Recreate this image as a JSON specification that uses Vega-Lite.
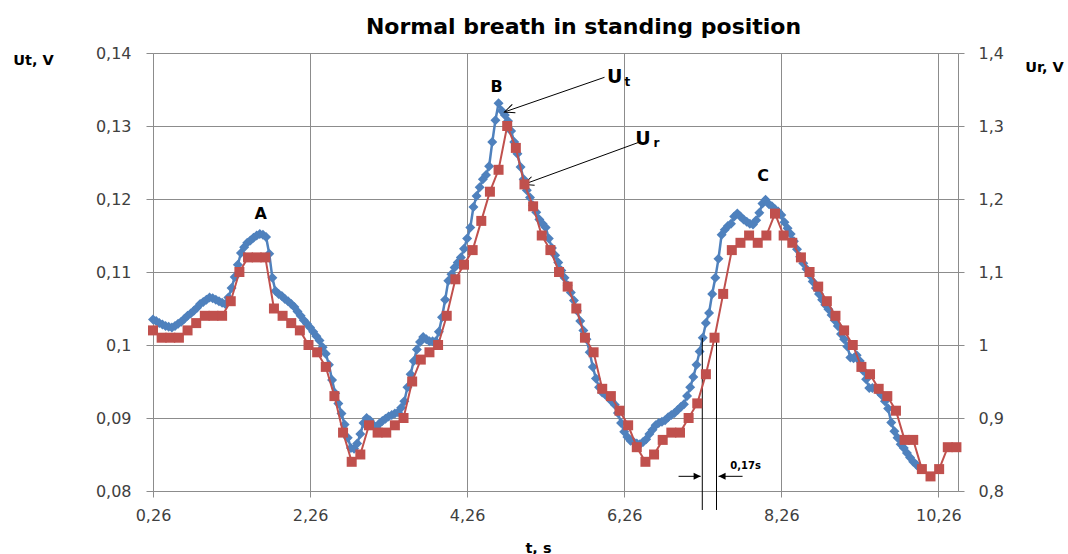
{
  "$schema": "https://vega.github.io/schema/vega-lite/v6.json",
  "width": 805,
  "height": 438,
  "autosize": {"type": "none"},
  "padding": {"left": 153, "top": 53, "right": 110, "bottom": 63},
  "background": "white",
  "title": {"text": "Normal breath in standing position", "font": "DejaVu Sans", "fontSize": 22, "fontWeight": "bold", "color": "#000000", "anchor": "middle", "dx": 28, "dy": 32, "offset": 16, "baseline": "bottom"},
  "config": {
    "view": {"stroke": null},
    "axis": {"labelFont": "DejaVu Sans", "labelFontSize": 16, "labelColor": "#404040", "titleFont": "DejaVu Sans", "titleFontSize": 14.5, "titleFontWeight": "bold", "titleColor": "#000000", "gridColor": "#8c8c8c", "domainColor": "#8c8c8c", "tickColor": "#8c8c8c", "gridWidth": 1, "labelFlush": false, "labelOverlap": false}
  },
  "datasets": {
    "ut": [
      {"t":0.26,"v":0.1035},{"t":0.30,"v":0.1033},{"t":0.34,"v":0.1030},{"t":0.38,"v":0.1028},{"t":0.42,"v":0.1026},{"t":0.46,"v":0.1025},{"t":0.50,"v":0.1024},{"t":0.54,"v":0.1026},{"t":0.58,"v":0.1029},{"t":0.62,"v":0.1032},
      {"t":0.66,"v":0.1036},{"t":0.70,"v":0.1040},{"t":0.74,"v":0.1043},{"t":0.78,"v":0.1047},{"t":0.82,"v":0.1051},{"t":0.86,"v":0.1056},{"t":0.90,"v":0.1059},{"t":0.94,"v":0.1062},{"t":0.98,"v":0.1065},{"t":1.02,"v":0.1064},
      {"t":1.06,"v":0.1062},{"t":1.10,"v":0.1060},{"t":1.14,"v":0.1058},{"t":1.18,"v":0.1056},{"t":1.22,"v":0.1065},{"t":1.26,"v":0.1078},{"t":1.30,"v":0.1093},{"t":1.34,"v":0.1110},{"t":1.38,"v":0.1126},{"t":1.42,"v":0.1134},
      {"t":1.46,"v":0.1140},{"t":1.50,"v":0.1143},{"t":1.54,"v":0.1147},{"t":1.58,"v":0.1150},{"t":1.62,"v":0.1152},{"t":1.66,"v":0.1151},{"t":1.70,"v":0.1148},{"t":1.74,"v":0.1125},{"t":1.78,"v":0.1092},{"t":1.82,"v":0.1074},
      {"t":1.86,"v":0.1070},{"t":1.90,"v":0.1067},{"t":1.94,"v":0.1063},{"t":1.98,"v":0.1060},{"t":2.02,"v":0.1056},{"t":2.06,"v":0.1052},{"t":2.10,"v":0.1046},{"t":2.14,"v":0.1040},{"t":2.18,"v":0.1034},{"t":2.22,"v":0.1029},
      {"t":2.26,"v":0.1024},{"t":2.30,"v":0.1018},{"t":2.34,"v":0.1012},{"t":2.38,"v":0.1006},{"t":2.42,"v":0.0997},{"t":2.46,"v":0.0988},{"t":2.50,"v":0.0973},{"t":2.54,"v":0.0952},{"t":2.58,"v":0.0934},{"t":2.62,"v":0.0920},
      {"t":2.66,"v":0.0906},{"t":2.70,"v":0.0891},{"t":2.74,"v":0.0873},{"t":2.78,"v":0.0859},{"t":2.82,"v":0.0858},{"t":2.86,"v":0.0865},{"t":2.90,"v":0.0878},{"t":2.94,"v":0.0893},{"t":2.98,"v":0.0900},{"t":3.02,"v":0.0897},
      {"t":3.06,"v":0.0891},{"t":3.10,"v":0.0887},{"t":3.14,"v":0.0892},{"t":3.18,"v":0.0896},{"t":3.22,"v":0.0899},{"t":3.26,"v":0.0902},{"t":3.30,"v":0.0904},{"t":3.34,"v":0.0906},{"t":3.38,"v":0.0908},{"t":3.42,"v":0.0914},
      {"t":3.46,"v":0.0923},{"t":3.50,"v":0.0942},{"t":3.54,"v":0.0960},{"t":3.58,"v":0.0978},{"t":3.62,"v":0.0994},{"t":3.66,"v":0.1004},{"t":3.70,"v":0.1011},{"t":3.74,"v":0.1008},{"t":3.78,"v":0.1005},{"t":3.82,"v":0.1005},
      {"t":3.86,"v":0.1005},{"t":3.90,"v":0.1018},{"t":3.94,"v":0.1038},{"t":3.98,"v":0.1062},{"t":4.02,"v":0.1088},{"t":4.06,"v":0.1097},{"t":4.10,"v":0.1106},{"t":4.14,"v":0.1113},{"t":4.18,"v":0.1120},{"t":4.22,"v":0.1132},
      {"t":4.26,"v":0.1146},{"t":4.30,"v":0.1161},{"t":4.34,"v":0.1189},{"t":4.38,"v":0.1204},{"t":4.42,"v":0.1216},{"t":4.46,"v":0.1227},{"t":4.50,"v":0.1233},{"t":4.54,"v":0.1245},{"t":4.58,"v":0.1278},{"t":4.62,"v":0.1308},
      {"t":4.66,"v":0.1331},{"t":4.70,"v":0.1321},{"t":4.74,"v":0.1315},{"t":4.78,"v":0.1307},{"t":4.82,"v":0.1293},{"t":4.86,"v":0.1278},{"t":4.90,"v":0.1262},{"t":4.94,"v":0.1244},{"t":4.98,"v":0.1227},{"t":5.02,"v":0.1212},
      {"t":5.06,"v":0.1202},{"t":5.10,"v":0.1191},{"t":5.14,"v":0.1182},{"t":5.18,"v":0.1172},{"t":5.22,"v":0.1166},{"t":5.26,"v":0.1161},{"t":5.30,"v":0.1146},{"t":5.34,"v":0.1133},{"t":5.38,"v":0.1123},{"t":5.42,"v":0.1113},
      {"t":5.46,"v":0.1102},{"t":5.50,"v":0.1092},{"t":5.54,"v":0.1082},{"t":5.58,"v":0.1072},{"t":5.62,"v":0.1061},{"t":5.66,"v":0.1047},{"t":5.70,"v":0.1033},{"t":5.74,"v":0.1020},{"t":5.78,"v":0.1008},{"t":5.82,"v":0.0990},
      {"t":5.86,"v":0.0970},{"t":5.90,"v":0.0954},{"t":5.94,"v":0.0942},{"t":5.98,"v":0.0935},{"t":6.02,"v":0.0932},{"t":6.06,"v":0.0928},{"t":6.10,"v":0.0923},{"t":6.14,"v":0.0918},{"t":6.18,"v":0.0907},{"t":6.22,"v":0.0893},
      {"t":6.26,"v":0.0881},{"t":6.30,"v":0.0874},{"t":6.34,"v":0.0869},{"t":6.38,"v":0.0867},{"t":6.42,"v":0.0865},{"t":6.46,"v":0.0864},{"t":6.50,"v":0.0867},{"t":6.54,"v":0.0871},{"t":6.58,"v":0.0878},{"t":6.62,"v":0.0884},
      {"t":6.66,"v":0.0890},{"t":6.70,"v":0.0893},{"t":6.74,"v":0.0895},{"t":6.78,"v":0.0897},{"t":6.82,"v":0.0901},{"t":6.86,"v":0.0904},{"t":6.90,"v":0.0907},{"t":6.94,"v":0.0911},{"t":6.98,"v":0.0915},{"t":7.02,"v":0.0919},
      {"t":7.06,"v":0.0930},{"t":7.10,"v":0.0942},{"t":7.14,"v":0.0956},{"t":7.18,"v":0.0973},{"t":7.22,"v":0.0991},{"t":7.26,"v":0.1010},{"t":7.30,"v":0.1030},{"t":7.34,"v":0.1044},{"t":7.38,"v":0.1070},{"t":7.42,"v":0.1092},
      {"t":7.46,"v":0.1118},{"t":7.50,"v":0.1151},{"t":7.54,"v":0.1158},{"t":7.58,"v":0.1163},{"t":7.62,"v":0.1166},{"t":7.66,"v":0.1176},{"t":7.70,"v":0.1180},{"t":7.74,"v":0.1176},{"t":7.78,"v":0.1172},{"t":7.82,"v":0.1169},
      {"t":7.86,"v":0.1166},{"t":7.90,"v":0.1165},{"t":7.94,"v":0.1171},{"t":7.98,"v":0.1181},{"t":8.02,"v":0.1194},{"t":8.06,"v":0.1199},{"t":8.10,"v":0.1193},{"t":8.14,"v":0.1190},{"t":8.18,"v":0.1186},{"t":8.22,"v":0.1183},
      {"t":8.26,"v":0.1178},{"t":8.30,"v":0.1168},{"t":8.34,"v":0.1160},{"t":8.38,"v":0.1152},{"t":8.42,"v":0.1142},{"t":8.46,"v":0.1131},{"t":8.50,"v":0.1121},{"t":8.54,"v":0.1112},{"t":8.58,"v":0.1104},{"t":8.62,"v":0.1096},
      {"t":8.66,"v":0.1087},{"t":8.70,"v":0.1078},{"t":8.74,"v":0.1070},{"t":8.78,"v":0.1062},{"t":8.82,"v":0.1055},{"t":8.86,"v":0.1049},{"t":8.90,"v":0.1041},{"t":8.94,"v":0.1034},{"t":8.98,"v":0.1026},{"t":9.02,"v":0.1015},
      {"t":9.06,"v":0.1008},{"t":9.10,"v":0.0998},{"t":9.14,"v":0.0983},{"t":9.18,"v":0.0982},{"t":9.22,"v":0.0986},{"t":9.26,"v":0.0978},{"t":9.30,"v":0.0965},{"t":9.34,"v":0.0953},{"t":9.38,"v":0.0941},{"t":9.42,"v":0.0941},
      {"t":9.46,"v":0.0941},{"t":9.50,"v":0.0936},{"t":9.54,"v":0.0931},{"t":9.58,"v":0.0923},{"t":9.62,"v":0.0913},{"t":9.66,"v":0.0894},{"t":9.70,"v":0.0882},{"t":9.74,"v":0.0873},{"t":9.78,"v":0.0864},{"t":9.82,"v":0.0859},
      {"t":9.86,"v":0.0852},{"t":9.90,"v":0.0846},{"t":9.94,"v":0.0840},{"t":9.98,"v":0.0836},{"t":10.02,"v":0.0832}
    ],
    "ur": [
      {"t":0.26,"ur":1.02},{"t":0.37,"ur":1.01},{"t":0.48,"ur":1.01},{"t":0.59,"ur":1.01},{"t":0.70,"ur":1.02},{"t":0.81,"ur":1.03},{"t":0.92,"ur":1.04},{"t":1.03,"ur":1.04},{"t":1.14,"ur":1.04},{"t":1.25,"ur":1.06},
      {"t":1.36,"ur":1.10},{"t":1.47,"ur":1.12},{"t":1.58,"ur":1.12},{"t":1.69,"ur":1.12},{"t":1.80,"ur":1.05},{"t":1.91,"ur":1.04},{"t":2.02,"ur":1.03},{"t":2.13,"ur":1.02},{"t":2.24,"ur":1.00},{"t":2.35,"ur":0.99},
      {"t":2.46,"ur":0.97},{"t":2.57,"ur":0.93},{"t":2.68,"ur":0.88},{"t":2.79,"ur":0.84},{"t":2.90,"ur":0.85},{"t":3.01,"ur":0.89},{"t":3.12,"ur":0.88},{"t":3.23,"ur":0.88},{"t":3.34,"ur":0.89},{"t":3.45,"ur":0.90},
      {"t":3.56,"ur":0.95},{"t":3.67,"ur":0.98},{"t":3.78,"ur":0.99},{"t":3.89,"ur":1.00},{"t":4.00,"ur":1.04},{"t":4.11,"ur":1.09},{"t":4.22,"ur":1.11},{"t":4.33,"ur":1.13},{"t":4.44,"ur":1.17},{"t":4.55,"ur":1.21},
      {"t":4.66,"ur":1.24},{"t":4.77,"ur":1.30},{"t":4.88,"ur":1.27},{"t":4.99,"ur":1.22},{"t":5.10,"ur":1.19},{"t":5.21,"ur":1.15},{"t":5.32,"ur":1.13},{"t":5.43,"ur":1.10},{"t":5.54,"ur":1.08},{"t":5.65,"ur":1.05},
      {"t":5.76,"ur":1.01},{"t":5.87,"ur":0.99},{"t":5.98,"ur":0.94},{"t":6.09,"ur":0.93},{"t":6.20,"ur":0.91},{"t":6.31,"ur":0.89},{"t":6.42,"ur":0.86},{"t":6.53,"ur":0.84},{"t":6.64,"ur":0.85},{"t":6.75,"ur":0.87},
      {"t":6.86,"ur":0.88},{"t":6.97,"ur":0.88},{"t":7.08,"ur":0.90},{"t":7.19,"ur":0.92},{"t":7.30,"ur":0.96},{"t":7.41,"ur":1.01},{"t":7.52,"ur":1.07},{"t":7.63,"ur":1.13},{"t":7.74,"ur":1.14},{"t":7.85,"ur":1.15},
      {"t":7.96,"ur":1.14},{"t":8.07,"ur":1.15},{"t":8.18,"ur":1.18},{"t":8.29,"ur":1.15},{"t":8.40,"ur":1.14},{"t":8.51,"ur":1.12},{"t":8.62,"ur":1.10},{"t":8.73,"ur":1.08},{"t":8.84,"ur":1.06},{"t":8.95,"ur":1.04},
      {"t":9.06,"ur":1.02},{"t":9.17,"ur":1.00},{"t":9.28,"ur":0.97},{"t":9.39,"ur":0.96},{"t":9.50,"ur":0.94},{"t":9.61,"ur":0.93},{"t":9.72,"ur":0.91},{"t":9.83,"ur":0.87},{"t":9.94,"ur":0.87},{"t":10.05,"ur":0.83},
      {"t":10.16,"ur":0.82},{"t":10.27,"ur":0.83},{"t":10.38,"ur":0.86},{"t":10.49,"ur":0.86}
    ],
    "letters": [{"t":1.63,"v":0.1179,"label":"A"},{"t":4.635,"v":0.1353,"label":"B"},{"t":8.03,"v":0.1232,"label":"C"}],
    "bigU": [{"t":6.14,"v":0.13667,"label":"U"},{"t":6.50,"v":0.12818,"label":"U"}],
    "subs": [{"t":6.30,"v":0.13599,"label":"t"},{"t":6.67,"v":0.12763,"label":"r"}],
    "vlines": [{"t":7.254,"v":0.101,"v2":0.0774},{"t":7.435,"v":0.101,"v2":0.0774}],
    "arrows": [
      {"t":6.009,"v":0.13667,"t2":4.735,"v2":0.13192},
      {"t":6.442,"v":0.12775,"t2":4.98,"v2":0.1220},
      {"t":6.952,"v":0.08201,"t2":7.233,"v2":0.08201},
      {"t":7.767,"v":0.08201,"t2":7.461,"v2":0.08201}
    ],
    "openHeads": [{"t":4.735,"v":0.13192},{"t":4.98,"v":0.1220}],
    "rightHead": [{"t":7.233,"v":0.08201}],
    "leftHead": [{"t":7.461,"v":0.08201}],
    "note": [{"t":7.805,"v":0.08345,"label":"0,17s"}]
  },
  "encoding": {
    "x": {
      "field": "t", "type": "quantitative",
      "scale": {"domain": [0.26, 10.51], "nice": false, "zero": false},
      "axis": {"values": [0.26, 2.26, 4.26, 6.26, 8.26, 10.26], "labelExpr": "replace(format(datum.value, '.2f'), '.', ',')", "title": "t, s", "grid": true, "tickSize": 6, "labelPadding": 10, "titleX": 385, "titleY": 57, "titleBaseline": "middle", "titleAlign": "center"}
    }
  },
  "resolve": {"scale": {"y": "independent"}},
  "layer": [
    {
      "encoding": {
        "y": {
          "field": "v", "type": "quantitative",
          "scale": {"domain": [0.08, 0.14], "nice": false, "zero": false},
          "axis": {"values": [0.08, 0.09, 0.1, 0.11, 0.12, 0.13, 0.14], "labelExpr": "replace(format(datum.value, '.6~g'), '.', ',')", "title": "Ut, V", "grid": true, "tickSize": 7, "labelPadding": 15, "titleAngle": 0, "titleX": -120, "titleY": 7, "titleAlign": "center", "titleBaseline": "middle"}
        }
      },
      "layer": [
        {
          "data": {"name": "ut"},
          "mark": {"type": "line", "color": "#4F81BD", "strokeWidth": 2.5, "point": {"shape": "diamond", "size": 100, "filled": true, "color": "#4F81BD", "opacity": 1}}
        },
        {
          "data": {"name": "vlines"},
          "mark": {"type": "rule", "color": "#000000", "strokeWidth": 1},
          "encoding": {"y2": {"field": "v2"}}
        },
        {
          "data": {"name": "arrows"},
          "mark": {"type": "rule", "color": "#000000", "strokeWidth": 1},
          "encoding": {"x2": {"field": "t2"}, "y2": {"field": "v2"}}
        },
        {
          "data": {"name": "openHeads"},
          "mark": {"type": "point", "shape": "M1,-0.45L0,0L1,0.45", "filled": false, "stroke": "#000000", "strokeWidth": 1, "size": 400, "angle": 340, "opacity": 1}
        },
        {
          "data": {"name": "rightHead"},
          "mark": {"type": "point", "shape": "M0,0L-1,-0.5L-1,0.5Z", "filled": true, "color": "#000000", "size": 196, "opacity": 1}
        },
        {
          "data": {"name": "leftHead"},
          "mark": {"type": "point", "shape": "M0,0L1,-0.5L1,0.5Z", "filled": true, "color": "#000000", "size": 196, "opacity": 1}
        },
        {
          "data": {"name": "letters"},
          "mark": {"type": "text", "font": "DejaVu Sans", "fontSize": 16, "fontWeight": "bold", "color": "#000000", "align": "center", "baseline": "middle"},
          "encoding": {"text": {"field": "label"}}
        },
        {
          "data": {"name": "bigU"},
          "mark": {"type": "text", "font": "DejaVu Sans", "fontSize": 19, "fontWeight": "bold", "color": "#000000", "align": "center", "baseline": "middle"},
          "encoding": {"text": {"field": "label"}}
        },
        {
          "data": {"name": "subs"},
          "mark": {"type": "text", "font": "DejaVu Sans", "fontSize": 12, "fontWeight": "bold", "color": "#000000", "align": "center", "baseline": "middle"},
          "encoding": {"text": {"field": "label"}}
        },
        {
          "data": {"name": "note"},
          "mark": {"type": "text", "font": "DejaVu Sans", "fontSize": 10, "fontWeight": "bold", "color": "#000000", "align": "center", "baseline": "middle"},
          "encoding": {"text": {"field": "label"}}
        }
      ]
    },
    {
      "data": {"name": "ur"},
      "mark": {"type": "line", "color": "#C0504D", "strokeWidth": 2, "point": {"shape": "square", "size": 100, "filled": true, "color": "#C0504D", "opacity": 1}},
      "encoding": {
        "y": {
          "field": "ur", "type": "quantitative",
          "scale": {"domain": [0.8, 1.4], "nice": false, "zero": false},
          "axis": {"orient": "right", "values": [0.8, 0.9, 1, 1.1, 1.2, 1.3, 1.4], "labelExpr": "replace(format(datum.value, '.6~g'), '.', ',')", "title": "Ur, V", "grid": false, "tickSize": 6, "labelPadding": 14, "titleAngle": 0, "titleX": 86, "titleY": 14, "titleAlign": "center", "titleBaseline": "middle"}
        }
      }
    }
  ]
}
